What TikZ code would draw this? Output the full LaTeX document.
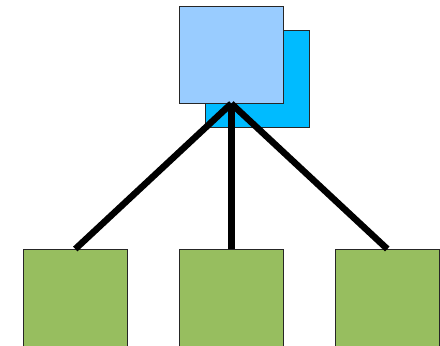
\documentclass[tikz,border=0pt]{standalone}
\definecolor{paleblue}{HTML}{99CCFF}
\definecolor{deepblue}{HTML}{00BBFF}
\definecolor{leafgreen}{HTML}{97BE5F}
\tikzset{
  box/.style={draw=black!85, line width=0.6pt, minimum width=104pt, minimum height=97pt, inner sep=0pt, anchor=north west},
  link/.style={line width=6.5pt, black}
}
\begin{document}
\begin{tikzpicture}[x=1pt,y=-1pt]
            \clip (0,0) rectangle (440,346);
            \useasboundingbox (0,0) rectangle (440,346);
            %capo
            \node[box, fill=deepblue] (back) at (205,30) {};
            \node[box, fill=paleblue] (top) at (179,6) {};
            %foglie
            \node[box, fill=leafgreen] (left) at (23,249) {};
            \node[box, fill=leafgreen] (mid) at (179,249) {};
            \node[box, fill=leafgreen] (right) at (335,249) {};
            %collegamenti
            \draw[link] (top.south) -- (left.north);
            \draw[link] (top.south) -- (mid.north);
            \draw[link] (top.south) -- (right.north);
\end{tikzpicture}
\end{document}
